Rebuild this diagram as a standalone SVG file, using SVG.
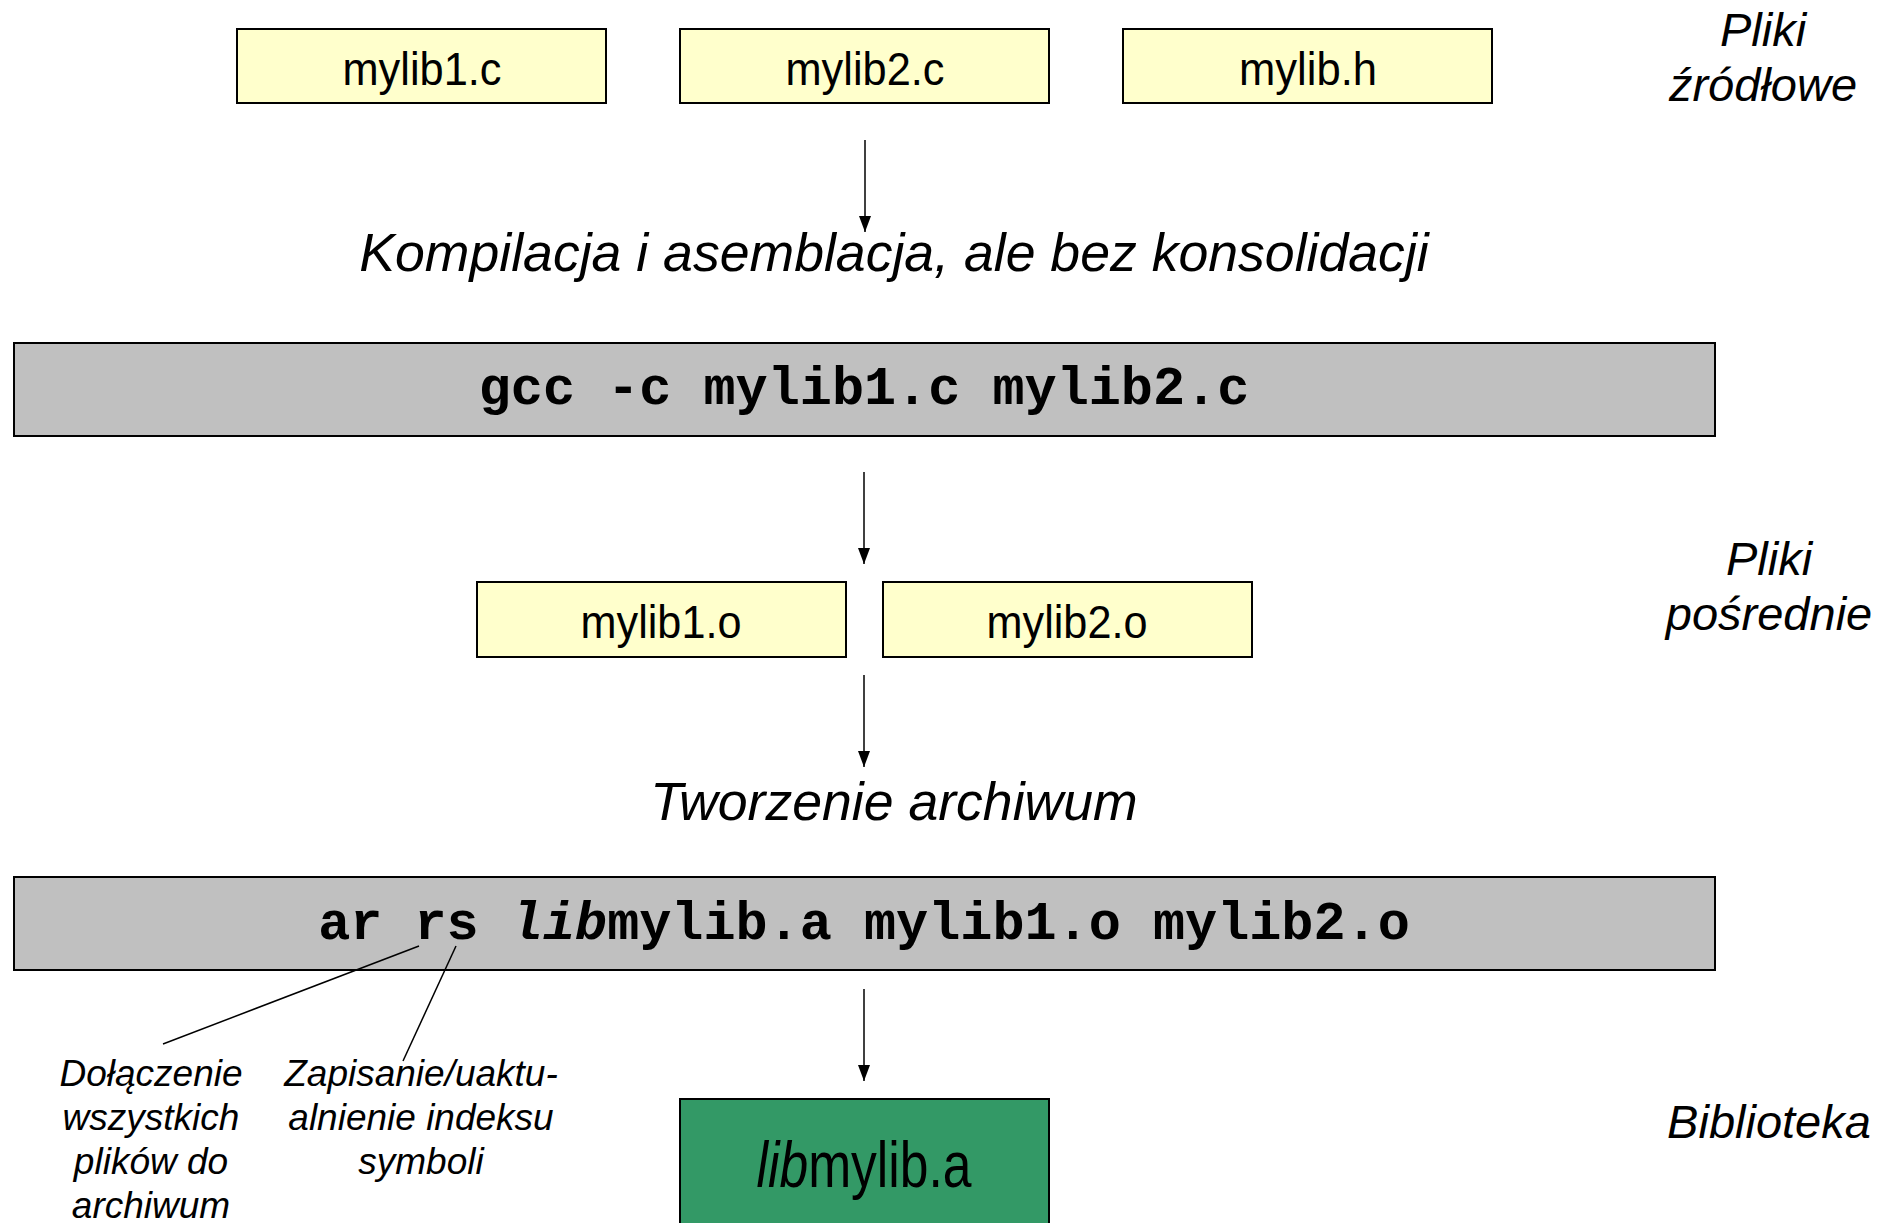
<svg xmlns="http://www.w3.org/2000/svg" width="1897" height="1223" viewBox="0 0 1897 1223">
  <style>
    .file { fill: #FFFFCC; stroke: #000; stroke-width: 2; }
    .cmd { fill: #C0C0C0; stroke: #000; stroke-width: 2; }
    .lib { fill: #339966; stroke: #000; stroke-width: 2; }
    .lbl { font-family: "Liberation Sans", Arial, sans-serif; font-size: 46px; fill: #000; text-anchor: middle; }
    .step { font-family: "Liberation Sans", Arial, sans-serif; font-size: 53.6px; font-style: italic; fill: #000; text-anchor: middle; }
    .side { font-family: "Liberation Sans", Arial, sans-serif; font-size: 47px; font-style: italic; fill: #000; text-anchor: middle; }
    .note { font-family: "Liberation Sans", Arial, sans-serif; font-size: 37px; font-style: italic; fill: #000; text-anchor: middle; }
    .mono { font-family: "Liberation Mono", "Courier New", monospace; font-size: 53.5px; font-weight: bold; fill: #000; text-anchor: middle; }
    .conn { stroke: #000; stroke-width: 1.5; fill: none; }
  </style>
  <defs>
    <marker id="tip" markerUnits="userSpaceOnUse" markerWidth="16" markerHeight="12" refX="16" refY="6" orient="auto" viewBox="0 0 16 12">
      <path d="M0,0 L16,6 L0,12 Z" fill="#000"/>
    </marker>
  </defs>

  <rect width="1897" height="1223" fill="#fff"/>

  <!-- source files -->
  <g id="src-mylib1c">
    <rect class="file" x="237" y="29" width="369" height="74"/>
    <text class="lbl" x="422" y="85" textLength="159" lengthAdjust="spacingAndGlyphs">mylib1.c</text>
  </g>
  <g id="src-mylib2c">
    <rect class="file" x="680" y="29" width="369" height="74"/>
    <text class="lbl" x="865" y="85" textLength="159" lengthAdjust="spacingAndGlyphs">mylib2.c</text>
  </g>
  <g id="src-mylibh">
    <rect class="file" x="1123" y="29" width="369" height="74"/>
    <text class="lbl" x="1308" y="85" textLength="138" lengthAdjust="spacingAndGlyphs">mylib.h</text>
  </g>
  <g id="label-sources">
    <text class="side" x="1763" y="46">Pliki</text>
    <text class="side" x="1763" y="101">źródłowe</text>
  </g>

  <!-- compile step -->
  <g id="step-compile">
    <text class="step" x="894" y="271">Kompilacja i asemblacja, ale bez konsolidacji</text>
  </g>
  <g id="cmd-gcc">
    <rect class="cmd" x="14" y="343" width="1701" height="93"/>
    <text class="mono" x="864" y="404">gcc -c mylib1.c mylib2.c</text>
  </g>

  <!-- object files -->
  <g id="obj-mylib1o">
    <rect class="file" x="477" y="582" width="369" height="75"/>
    <text class="lbl" x="661" y="638" textLength="161" lengthAdjust="spacingAndGlyphs">mylib1.o</text>
  </g>
  <g id="obj-mylib2o">
    <rect class="file" x="883" y="582" width="369" height="75"/>
    <text class="lbl" x="1067" y="638" textLength="161" lengthAdjust="spacingAndGlyphs">mylib2.o</text>
  </g>
  <g id="label-objects">
    <text class="side" x="1769" y="575">Pliki</text>
    <text class="side" x="1769" y="630">pośrednie</text>
  </g>

  <!-- archive step -->
  <g id="step-archive">
    <text class="step" x="894" y="820">Tworzenie archiwum</text>
  </g>
  <g id="cmd-ar">
    <rect class="cmd" x="14" y="877" width="1701" height="93"/>
    <text class="mono" x="864" y="939">ar rs <tspan font-style="italic">lib</tspan>mylib.a mylib1.o mylib2.o</text>
  </g>

  <!-- option notes -->
  <g id="note-r">
    <text class="note" x="151" y="1086">Dołączenie</text>
    <text class="note" x="151" y="1130">wszystkich</text>
    <text class="note" x="151" y="1174">plików do</text>
    <text class="note" x="151" y="1218">archiwum</text>
  </g>
  <g id="note-s">
    <text class="note" x="421" y="1086">Zapisanie/uaktu-</text>
    <text class="note" x="421" y="1130">alnienie indeksu</text>
    <text class="note" x="421" y="1174">symboli</text>
  </g>

  <!-- resulting library -->
  <g id="lib-libmylib">
    <rect class="lib" x="680" y="1099" width="369" height="140"/>
    <g transform="translate(864 1187) scale(0.806 1)">
      <text class="lbl" x="0" y="0" style="font-size:64px"><tspan font-style="italic">lib</tspan>mylib.a</text>
    </g>
  </g>
  <g id="label-library">
    <text class="side" x="1769" y="1138">Biblioteka</text>
  </g>

  <!-- connectors -->
  <g id="connectors">
    <line class="conn" x1="865" y1="140" x2="865" y2="232" marker-end="url(#tip)"/>
    <line class="conn" x1="864" y1="472" x2="864" y2="564" marker-end="url(#tip)"/>
    <line class="conn" x1="864" y1="675" x2="864" y2="767" marker-end="url(#tip)"/>
    <line class="conn" x1="864" y1="989" x2="864" y2="1081" marker-end="url(#tip)"/>
    <line class="conn" x1="419" y1="946" x2="163" y2="1044"/>
    <line class="conn" x1="456" y1="946" x2="403" y2="1061"/>
  </g>
</svg>
